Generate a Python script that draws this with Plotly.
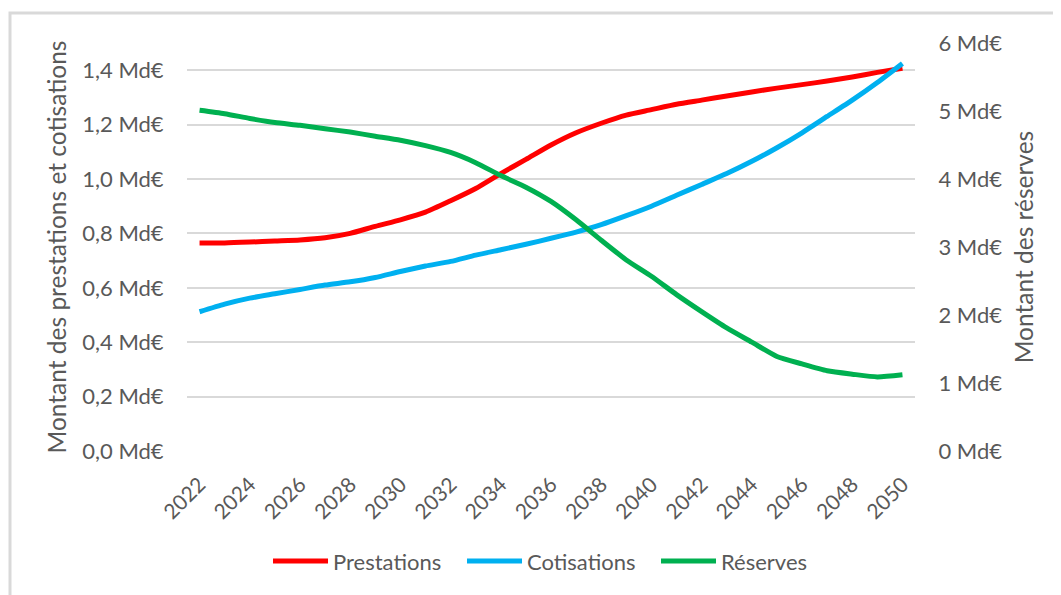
import plotly.graph_objects as go

years = list(range(2022, 2051))
prestations = [0.765, 0.765, 0.768, 0.772, 0.776, 0.784, 0.800, 0.826, 0.850, 0.878,
               0.920, 0.965, 1.020, 1.072, 1.125, 1.170, 1.205, 1.235, 1.255, 1.275,
               1.290, 1.305, 1.320, 1.334, 1.347, 1.360, 1.375, 1.392, 1.407]
cotisations = [0.512, 0.540, 0.562, 0.578, 0.594, 0.610, 0.622, 0.638, 0.660, 0.680,
               0.697, 0.720, 0.740, 0.760, 0.782, 0.805, 0.832, 0.865, 0.900, 0.940,
               0.980, 1.020, 1.065, 1.115, 1.170, 1.230, 1.290, 1.355, 1.425]
reserves = [5.01, 4.96, 4.89, 4.83, 4.79, 4.74, 4.69, 4.63, 4.57, 4.49,
            4.39, 4.24, 4.05, 3.88, 3.67, 3.40, 3.10, 2.81, 2.57, 2.30,
            2.05, 1.81, 1.60, 1.39, 1.28, 1.18, 1.13, 1.09, 1.12]

left_tickvals = [0, 0.2, 0.4, 0.6, 0.8, 1.0, 1.2, 1.4]
left_ticktext = ["0,0 Md€", "0,2 Md€", "0,4 Md€", "0,6 Md€", "0,8 Md€", "1,0 Md€", "1,2 Md€", "1,4 Md€"]
right_tickvals = [0, 1, 2, 3, 4, 5, 6]
right_ticktext = ["0 Md€", "1 Md€", "2 Md€", "3 Md€", "4 Md€", "5 Md€", "6 Md€"]

FONT = "Lato"
GRAY = "#595959"
GRID = "#D9D9D9"

fig = go.Figure()
fig.add_trace(go.Scatter(x=years, y=prestations, name="Prestations", mode="lines",
                         line=dict(color="#FF0000", width=5, shape="spline", smoothing=0.6)))
fig.add_trace(go.Scatter(x=years, y=cotisations, name="Cotisations", mode="lines",
                         line=dict(color="#00B0F0", width=5, shape="spline", smoothing=0.6)))
fig.add_trace(go.Scatter(x=years, y=reserves, name="Réserves", mode="lines", yaxis="y2",
                         line=dict(color="#00B050", width=5, shape="spline", smoothing=0.6)))

fig.update_layout(
    width=1061, height=595,
    margin=dict(l=179, r=154, t=35, b=152),
    paper_bgcolor="white", plot_bgcolor="white",
    font=dict(family=FONT, color=GRAY, size=21),
    showlegend=True,
    legend=dict(orientation="h", x=0.511, xanchor="center", y=-0.27, yanchor="middle",
                font=dict(size=22, color=GRAY, family=FONT), itemwidth=55,
                entrywidth=124, bgcolor="rgba(0,0,0,0)"),
    xaxis=dict(range=[2021.5, 2050.5], tickmode="array", tickvals=years[::2],
               ticktext=[str(y) for y in years[::2]], tickangle=-45,
               showgrid=False, zeroline=False, showline=False,
               ticks="outside", ticklen=12, tickcolor="rgba(0,0,0,0)",
               tickfont=dict(size=21, color=GRAY, family=FONT)),
    yaxis=dict(range=[0, 1.5], tickmode="array", tickvals=left_tickvals, ticktext=left_ticktext,
               showgrid=True, gridcolor=GRID, gridwidth=1.5, zeroline=False, showline=False,
               ticks="outside", ticklen=18, tickcolor="rgba(0,0,0,0)",
               tickfont=dict(size=22, color=GRAY, family=FONT),
               title=dict(text="Montant des prestations et cotisations",
                          font=dict(size=24.5, color=GRAY, family=FONT), standoff=8)),
    yaxis2=dict(range=[0, 6], overlaying="y", side="right", tickmode="array",
                tickvals=right_tickvals, ticktext=right_ticktext,
                showgrid=False, zeroline=False, showline=False,
                ticks="outside", ticklen=18, tickcolor="rgba(0,0,0,0)",
                tickfont=dict(size=22, color=GRAY, family=FONT),
                title=dict(text="Montant des réserves",
                           font=dict(size=24.5, color=GRAY, family=FONT), standoff=14)),
    shapes=[dict(type="rect", xref="paper", yref="paper",
                 x0=(10 - 187) / 728, x1=(1090 - 187) / 728,
                 y0=(451 - 620) / 408, y1=(451 - 13) / 408,
                 line=dict(color=GRID, width=3), fillcolor="rgba(0,0,0,0)", layer="below")],
)

fig.write_html("out.html")
